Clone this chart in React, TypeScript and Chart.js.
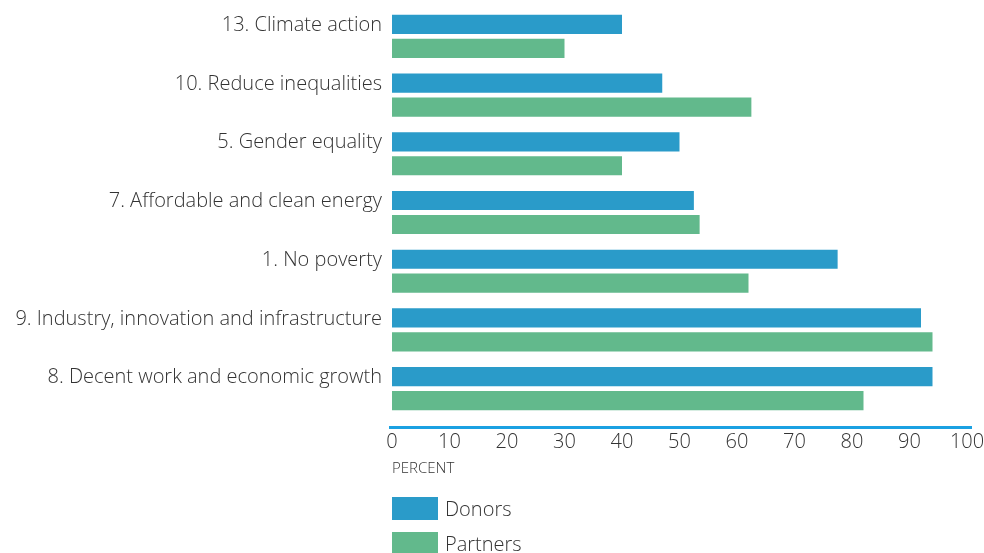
import React, { useEffect, useRef } from "react";
import { Chart, registerables } from "chart.js";

Chart.register(...registerables);

const categories = [
  "13. Climate action",
  "10. Reduce inequalities",
  "5. Gender equality",
  "7. Affordable and clean energy",
  "1. No poverty",
  "9. Industry, innovation and infrastructure",
  "8. Decent work and economic growth",
];
const donors = [40, 47, 50, 52.5, 77.5, 92, 94];
const partners = [30, 62.5, 40, 53.5, 62, 94, 82];
const seriesNames = ["Donors", "Partners"];
const seriesColors = ["#2a9bc9", "#62b98c"];
const axisTitle = "PERCENT";

const FONT = "'Open Sans', 'Noto Sans', sans-serif";
const TEXT = "#333333";

const axisLinePlugin = {
  id: "axisLine",
  afterDraw(chart: any) {
    const { ctx, chartArea } = chart;
    ctx.save();
    ctx.strokeStyle = "#1ba1e2";
    ctx.lineWidth = 3;
    ctx.beginPath();
    const y = chartArea.bottom + 9.5;
    ctx.moveTo(chartArea.left - 3, y);
    ctx.lineTo(chartArea.right + 5, y);
    ctx.stroke();
    ctx.restore();
  },
};

export default function App() {
  const ref = useRef<HTMLCanvasElement>(null);
  useEffect(() => {
    if (!ref.current) return;
    const chart = new Chart(ref.current, {
      type: "bar",
      data: {
        labels: categories,
        datasets: [
          {
            label: seriesNames[0],
            data: donors,
            backgroundColor: seriesColors[0],
            barPercentage: 0.8,
            categoryPercentage: 0.817,
          },
          {
            label: seriesNames[1],
            data: partners,
            backgroundColor: seriesColors[1],
            barPercentage: 0.8,
            categoryPercentage: 0.817,
          },
        ],
      },
      options: {
        indexAxis: "y",
        animation: false,
        responsive: false,
        maintainAspectRatio: false,
        layout: { padding: { top: 7, right: 17, bottom: 75, left: 0 } },
        plugins: {
          legend: { display: false },
          tooltip: { enabled: false },
        },
        scales: {
          y: {
            grid: { display: false, drawTicks: false },
            border: { display: false },
            afterFit: (s: any) => {
              s.width = 392;
              s.paddingTop = 0;
              s.paddingBottom = 0;
            },
            ticks: {
              color: TEXT,
              padding: 10,
              labelOffset: -11,
              font: { family: FONT, size: 20, weight: 300 },
            },
          },
          x: {
            min: 0,
            max: 100,
            grid: { display: false, drawTicks: false },
            border: { display: false },
            afterFit: (s: any) => {
              s.height = 60;
              s.paddingLeft = 0;
              s.paddingRight = 0;
            },
            ticks: {
              stepSize: 10,
              color: TEXT,
              padding: 12,
              maxRotation: 0,
              font: { family: FONT, size: 20, weight: 300 },
            },
            title: {
              display: true,
              text: axisTitle,
              align: "start",
              color: TEXT,
              padding: { top: 4, bottom: 0 },
              font: { family: FONT, size: 15, weight: 300 },
            },
          },
        },
      },
      plugins: [axisLinePlugin],
    });
    return () => chart.destroy();
  }, []);

  const legendTops = [497, 532];
  return (
    <div style={{ position: "fixed", left: 0, top: 0, width: 984, height: 553, background: "#fff", overflow: "hidden" }}>
      <canvas ref={ref} width={984} height={553} style={{ position: "absolute", left: 0, top: 0 }} />
      {seriesNames.map((n, i) => (
        <div
          key={n}
          style={{ position: "absolute", left: 392, top: legendTops[i], height: 23, display: "flex", alignItems: "center" }}
        >
          <div style={{ width: 46, height: 23, background: seriesColors[i] }} />
          <span
            style={{ marginLeft: 7, fontFamily: FONT, fontWeight: 300, fontSize: 20, color: TEXT, lineHeight: "23px" }}
          >
            {n}
          </span>
        </div>
      ))}
    </div>
  );
}
